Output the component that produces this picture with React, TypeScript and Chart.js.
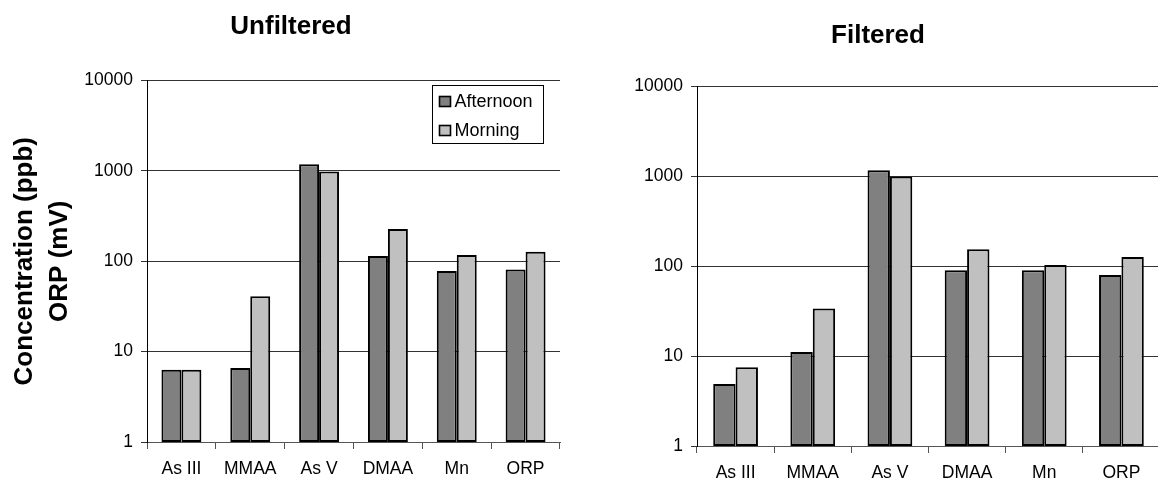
import React, { useEffect, useRef } from "react";
import { Chart, registerables } from "chart.js";

Chart.register(...registerables);

// ---- data ----
const categories = ["As III", "MMAA", "As V", "DMAA", "Mn", "ORP"];
const seriesNames = ["Afternoon", "Morning"];
const unfilteredAfternoon = [6.3, 6.6, 1185, 114, 78, 81];
const unfilteredMorning = [6.3, 41, 984, 228, 117, 127];
const filteredAfternoon = [4.9, 11.1, 1171, 90, 90, 80];
const filteredMorning = [7.5, 33.8, 995, 155, 103.5, 127];
const yTickValues = [1, 10, 100, 1000, 10000];
const axisTitleLines = ["Concentration (ppb)", "ORP (mV)"];

const FONT = '"Liberation Sans", Arial, Helvetica, sans-serif';
const seriesColors = ["#808080", "#C0C0C0"];

const boxLegend = {
  id: "boxLegend",
  afterDraw(chart: any, _args: any, opts: any) {
    if (!opts || !opts.show) return;
    const { ctx, chartArea } = chart;
    const x = Math.round(chartArea.right - 128);
    const y = Math.round(chartArea.top + 4);
    const w = 111;
    const h = 58;
    ctx.save();
    ctx.fillStyle = "#fff";
    ctx.fillRect(x, y, w, h);
    ctx.strokeStyle = "#000";
    ctx.lineWidth = 1;
    ctx.strokeRect(x + 0.5, y + 0.5, w, h);
    chart.data.datasets.forEach((ds: any, i: number) => {
      const cy = y + 16.5 + i * 29;
      ctx.fillStyle = ds.backgroundColor;
      ctx.fillRect(x + 7, cy - 5.5, 12, 11);
      ctx.lineWidth = 1.6;
      ctx.strokeStyle = "#000";
      ctx.strokeRect(x + 7.5, cy - 5, 11, 10);
      ctx.fillStyle = "#000";
      ctx.font = `18px ${FONT}`;
      ctx.textBaseline = "middle";
      ctx.textAlign = "left";
      ctx.fillText(ds.label, x + 22.5, cy + 1);
    });
    ctx.restore();
  },
};

const headTitle = {
  id: "headTitle",
  afterDraw(chart: any, _args: any, opts: any) {
    if (!opts || !opts.text) return;
    const { ctx } = chart;
    ctx.save();
    ctx.fillStyle = "#000";
    ctx.font = `bold 26px ${FONT}`;
    ctx.textAlign = "center";
    ctx.textBaseline = "middle";
    ctx.fillText(opts.text, opts.x, opts.y);
    ctx.restore();
  },
};

function makeConfig(p: {
  title: string;
  titleX: number;
  titleY: number;
  afternoon: number[];
  morning: number[];
  yWidth: number;
  padRight: number;
  padTop: number;
  xHeight: number;
  yTitle: boolean;
  legend: boolean;
}): any {
  return {
    type: "bar",
    data: {
      labels: categories,
      datasets: [
        {
          label: seriesNames[0],
          data: p.afternoon,
          backgroundColor: seriesColors[0],
          borderColor: "#000",
          borderWidth: 2,
          borderSkipped: false,
        },
        {
          label: seriesNames[1],
          data: p.morning,
          backgroundColor: seriesColors[1],
          borderColor: "#000",
          borderWidth: 2,
          borderSkipped: false,
        },
      ],
    },
    plugins: [boxLegend, headTitle],
    options: {
      animation: false,
      responsive: false,
      devicePixelRatio: 1,
      layout: { padding: { left: 0, right: p.padRight, top: p.padTop, bottom: 0 } },
      datasets: { bar: { categoryPercentage: 0.58, barPercentage: 1 } },
      plugins: {
        legend: { display: false },
        tooltip: { enabled: false },
        title: { display: false },
        boxLegend: { show: p.legend },
        headTitle: { text: p.title, x: p.titleX, y: p.titleY },
      },
      scales: {
        x: {
          type: "category",
          offset: true,
          grid: {
            offset: true,
            drawOnChartArea: false,
            drawTicks: true,
            tickLength: 7,
            color: "#555",
          },
          border: { color: "#555", width: 1 },
          ticks: {
            color: "#000",
            font: { family: FONT, size: 17.5 },
            padding: 10,
            maxRotation: 0,
            autoSkip: false,
          },
          afterFit: (s: any) => {
            s.height = p.xHeight;
          },
        },
        y: {
          type: "logarithmic",
          min: 1,
          max: 10000,
          afterBuildTicks: (s: any) => {
            s.ticks = yTickValues.map((v) => ({ value: v }));
          },
          ticks: {
            color: "#000",
            font: { family: FONT, size: 17.5 },
            padding: 8,
            callback: (v: any) => String(v),
          },
          grid: { color: "#333", tickLength: 6, lineWidth: 1 },
          border: { color: "#000", width: 1 },
          title: {
            display: p.yTitle,
            text: axisTitleLines,
            color: "#000",
            font: { family: FONT, size: 26, weight: "bold", lineHeight: 1.33 },
            padding: { top: 8, bottom: 0 },
          },
          afterFit: (s: any) => {
            s.width = p.yWidth;
          },
        },
      },
    },
  };
}

function BarChart(props: { left: number; width: number; config: () => any }) {
  const ref = useRef<HTMLCanvasElement | null>(null);
  useEffect(() => {
    const chart = new Chart(ref.current as HTMLCanvasElement, props.config());
    return () => chart.destroy();
  }, []);
  return (
    <canvas
      ref={ref}
      width={props.width}
      height={480}
      style={{
        position: "absolute",
        left: props.left,
        top: 0,
        width: props.width,
        height: 480,
        display: "block",
      }}
    />
  );
}

export default function App() {
  return (
    <div
      style={{
        position: "fixed",
        left: 0,
        top: 0,
        width: 1158,
        height: 480,
        overflow: "hidden",
        background: "#fff",
      }}
    >
      <BarChart
        left={0}
        width={580}
        config={() =>
          makeConfig({
            title: "Unfiltered",
            titleX: 291,
            titleY: 26.5,
            afternoon: unfilteredAfternoon,
            morning: unfilteredMorning,
            yWidth: 147,
            padRight: 20,
            padTop: 80.5,
            xHeight: 38,
            yTitle: true,
            legend: true,
          })
        }
      />
      <BarChart
        left={580}
        width={596}
        config={() =>
          makeConfig({
            title: "Filtered",
            titleX: 298,
            titleY: 35.5,
            afternoon: filteredAfternoon,
            morning: filteredMorning,
            yWidth: 117,
            padRight: 16,
            padTop: 86.5,
            xHeight: 34,
            yTitle: false,
            legend: false,
          })
        }
      />
    </div>
  );
}
